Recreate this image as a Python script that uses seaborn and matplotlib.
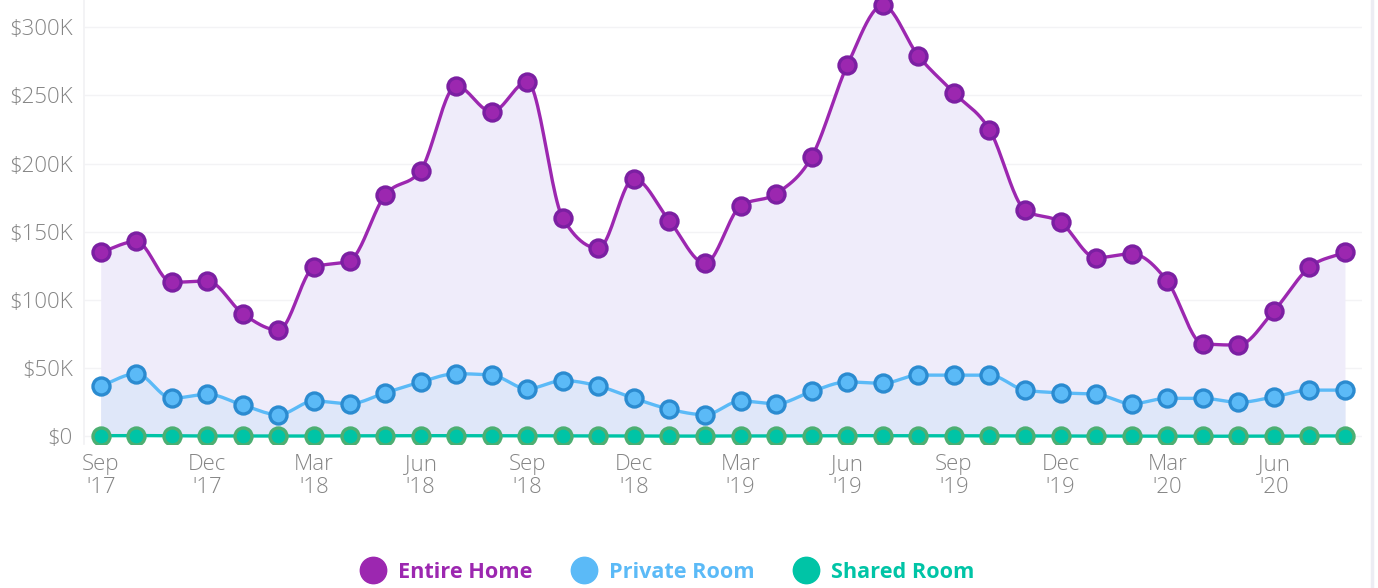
import numpy as np
import pandas as pd
import seaborn as sns
import matplotlib.pyplot as plt
from matplotlib.lines import Line2D
from matplotlib.ticker import FuncFormatter

# Monthly values, Sep 2017 - Aug 2020 (in $)
months = pd.date_range('2017-09-01', periods=36, freq='MS')
entire_home = [135, 143, 113, 114, 90, 78, 124, 129, 177, 195, 257, 238,
               260, 160, 138, 189, 158, 127, 169, 178, 205, 272, 316, 279,
               252, 225, 166, 157, 131, 134, 114, 68, 67, 92, 124, 135]
private_room = [37, 46, 28, 31, 23, 16, 26, 24, 32, 40, 46, 45,
                35, 41, 37, 28, 20, 16, 26, 24, 33, 40, 39, 45,
                45, 45, 34, 32, 31, 24, 28, 28, 25, 29, 34, 34]
shared_room = [0.6, 0.7, 0.5, 0.4, 0.4, 0.3, 0.4, 0.5, 0.5, 0.6, 0.6, 0.6,
               0.5, 0.5, 0.4, 0.4, 0.3, 0.3, 0.4, 0.4, 0.5, 0.6, 0.6, 0.6,
               0.5, 0.5, 0.4, 0.4, 0.3, 0.3, 0.3, 0.2, 0.2, 0.3, 0.4, 0.4]
tick_labels = ["Sep\n'17", "Dec\n'17", "Mar\n'18", "Jun\n'18", "Sep\n'18", "Dec\n'18",
               "Mar\n'19", "Jun\n'19", "Sep\n'19", "Dec\n'19", "Mar\n'20", "Jun\n'20"]

series = [
    ("Entire Home", np.array(entire_home) * 1000, "#9c27b0", "#7b1fa2", "#9c27b0", "#efecfa"),
    ("Private Room", np.array(private_room) * 1000, "#5bbaf7", "#2b8bd0", "#5bbaf7", "#dfe7f9"),
    ("Shared Room", np.array(shared_room) * 1000, "#00c4a6", "#4caf72", "#00c4a6", None),
]


def smooth(y, n=24):
    # monotone cubic (same idea as d3 curveMonotoneX), unit spacing
    y = np.asarray(y, float)
    s = np.diff(y)
    m = np.zeros_like(y)
    m[0], m[-1] = s[0], s[-1]
    for i in range(1, len(y) - 1):
        s0, s1 = s[i - 1], s[i]
        p = (s0 + s1) / 2
        m[i] = (np.sign(s0) + np.sign(s1)) * min(abs(s0), abs(s1), 0.5 * abs(p))
    xs, ys = [], []
    t = np.linspace(0, 1, n, endpoint=False)
    for i in range(len(y) - 1):
        h00 = 2 * t**3 - 3 * t**2 + 1
        h10 = t**3 - 2 * t**2 + t
        h01 = -2 * t**3 + 3 * t**2
        h11 = t**3 - t**2
        xs.append(i + t)
        ys.append(h00 * y[i] + h10 * m[i] + h01 * y[i + 1] + h11 * m[i + 1])
    xs.append([len(y) - 1])
    ys.append([y[-1]])
    return np.concatenate(xs), np.concatenate(ys)


sns.set_theme(style="white")
plt.rcParams['font.family'] = ['Open Sans', 'DejaVu Sans']

fig = plt.figure(figsize=(13.78, 5.88), dpi=100)
ax = fig.add_axes([84 / 1378, 1 - 444 / 588, (1362 - 84) / 1378, 444 / 588])

idx = np.arange(len(months))
for name, vals, line_c, edge_c, face_c, fill_c in series:
    xs, ys = smooth(vals)
    if fill_c:
        ax.fill_between(xs, 0, ys, color=fill_c, lw=0, zorder=1)

for name, vals, line_c, edge_c, face_c, fill_c in series:
    xs, ys = smooth(vals)
    sns.lineplot(x=xs, y=ys, ax=ax, color=line_c, lw=2.4, zorder=3, legend=False)
    sns.scatterplot(x=idx, y=vals, ax=ax, s=150, color=face_c, edgecolor=edge_c,
                    linewidth=2.4, zorder=4, legend=False)

ax.set_xlim(-0.47, 35.48)
ax.set_ylim(-5500, 320000)
ax.set_yticks(np.arange(0, 300001, 50000))
ax.yaxis.set_major_formatter(FuncFormatter(lambda v, p: "$0" if v == 0 else f"${int(v / 1000)}K"))
ax.set_xticks(idx[::3])
ax.set_xticklabels(tick_labels, linespacing=1.12)
ax.tick_params(axis='both', colors="#858585", labelsize=16, length=0)
ax.tick_params(axis='x', pad=7)
ax.tick_params(axis='y', pad=8)
for lab in ax.get_xticklabels() + ax.get_yticklabels():
    lab.set_fontweight('light')
ax.grid(axis='y', color="#f3f3f5", lw=1)
ax.set_axisbelow(True)
for side in ['top', 'right', 'bottom']:
    ax.spines[side].set_visible(False)
ax.spines['left'].set_color("#f2f2f4")
ax.set_xlabel("")
ax.set_ylabel("")

# page border on right
fig.add_artist(Line2D([0.9955, 0.9955], [0, 1], color="#ececf3", lw=2.5))

handles = [Line2D([], [], ls='none', marker='o', markersize=19, markerfacecolor=s[2],
                  markeredgecolor=s[2]) for s in series]
fig.legend(handles, [s[0] for s in series], loc='center', bbox_to_anchor=(0.481, 16 / 588),
           ncol=3, frameon=False, prop=dict(family='Open Sans', weight='bold', size=15.6),
           labelcolor=[s[2] for s in series], handletextpad=0.15, columnspacing=1.4)

fig.savefig("out.png", dpi=100, facecolor="white")
